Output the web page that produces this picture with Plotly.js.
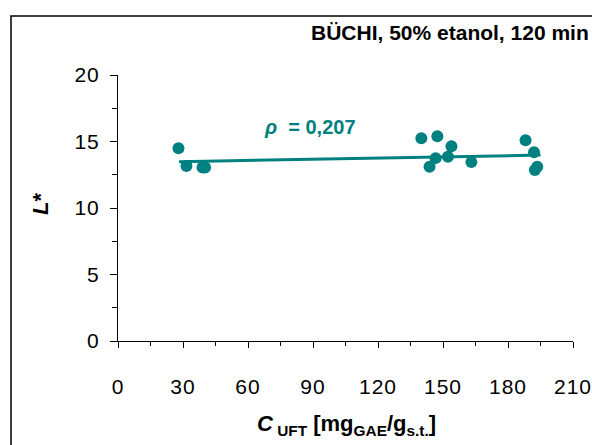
<!DOCTYPE html>
<html>
<head>
<meta charset="utf-8">
<script src="https://cdn.plot.ly/plotly-3.0.1.min.js"></script>
<style>
html,body{margin:0;padding:0;background:#fff;}
#chart{width:592px;height:445px;}
.xtick text,.ytick text{letter-spacing:1px;}
</style>
</head>
<body>
<div id="chart"></div>
<script>
// Data
const cUFT = [27.9, 31.6, 39.0, 40.2, 140.0, 147.4, 153.9, 146.6, 143.8, 152.3, 163.1, 188.1, 192.0, 193.5, 192.4];
const Lstar = [14.5, 13.15, 13.05, 13.05, 15.25, 15.4, 14.65, 13.75, 13.1, 13.85, 13.45, 15.1, 14.2, 13.1, 12.85];
const trendX = [28.2, 195];
const trendY = [13.48, 13.98];
const xTicks = [0, 30, 60, 90, 120, 150, 180, 210];
const yTicks = [0, 5, 10, 15, 20];
const titleText = "<b>BÜCHI, 50% etanol, 120 min</b>";
const rhoText = "<b><i>ρ</i>  = 0,207</b>";

const teal = "#008080";
const font = "Liberation Sans, Arial, sans-serif";

const traces = [
  {x: trendX, y: trendY, mode: "lines", line: {color: teal, width: 3}, hoverinfo: "skip"},
  {x: cUFT, y: Lstar, mode: "markers", marker: {color: teal, size: 12}}
];

const L = 118, R = 592 - 573, T = 75, B = 445 - 341;
const W = 592 - L - R, H = 445 - T - B;
const px = v => (v - L) / W;
const py = v => (445 - B - v) / H;

const layout = {
  width: 592, height: 445,
  margin: {l: L, r: R, t: T, b: B, pad: 0},
  paper_bgcolor: "#fff", plot_bgcolor: "#fff",
  showlegend: false,
  font: {family: font, color: "#000"},
  xaxis: {
    range: [0, 210], tickvals: xTicks, ticktext: xTicks.map(String),
    showgrid: false, zeroline: false, showline: true, linecolor: "#000", linewidth: 1,
    ticks: "outside", ticklen: 6, tickcolor: "#000",
    minor: {dtick: 15, tick0: 0, ticks: "outside", ticklen: 4, tickcolor: "#000"},
    tickfont: {size: 21, family: font}, ticklabelstandoff: 21, ticklabeloverflow: "allow"
  },
  yaxis: {
    range: [0, 20], tickvals: yTicks, ticktext: yTicks.map(String),
    showgrid: false, zeroline: false, showline: true, linecolor: "#000", linewidth: 1,
    ticks: "outside", ticklen: 7, tickcolor: "#000",
    minor: {dtick: 2.5, tick0: 0, ticks: "outside", ticklen: 5, tickcolor: "#000"},
    tickfont: {size: 21, family: font}, ticklabelstandoff: 6, ticklabeloverflow: "allow"
  },
  shapes: [
    {type: "rect", xref: "paper", yref: "paper", x0: px(11), x1: px(600), y0: py(455), y1: py(16),
     line: {color: "#000", width: 1.5}, fillcolor: "rgba(0,0,0,0)"}
  ],
  annotations: [
    {text: titleText, xref: "paper", yref: "paper", x: px(591), y: py(33), xanchor: "right", yanchor: "middle",
     showarrow: false, font: {size: 21, family: font, color: "#000"}},
    {text: rhoText, xref: "paper", yref: "paper", x: px(310), y: py(127), xanchor: "center", yanchor: "middle",
     showarrow: false, font: {size: 20, family: font, color: teal}},
    {text: "<b><i>L</i>*</b>", xref: "paper", yref: "paper", x: px(40), y: py(204), textangle: -90,
     xanchor: "center", yanchor: "middle", showarrow: false, font: {size: 22, family: font, color: "#000"}},
    {text: "<b><i>C</i></b><sub><b> UFT</b></sub><b> [mg<sub>GAE</sub>/g<sub>s.t.</sub>]</b>", xref: "paper", yref: "paper",
     x: px(346), y: py(425), xanchor: "center", yanchor: "middle", showarrow: false,
     font: {size: 22, family: font, color: "#000"}}
  ]
};

Plotly.newPlot("chart", traces, layout, {staticPlot: true, displayModeBar: false});
</script>
</body>
</html>
